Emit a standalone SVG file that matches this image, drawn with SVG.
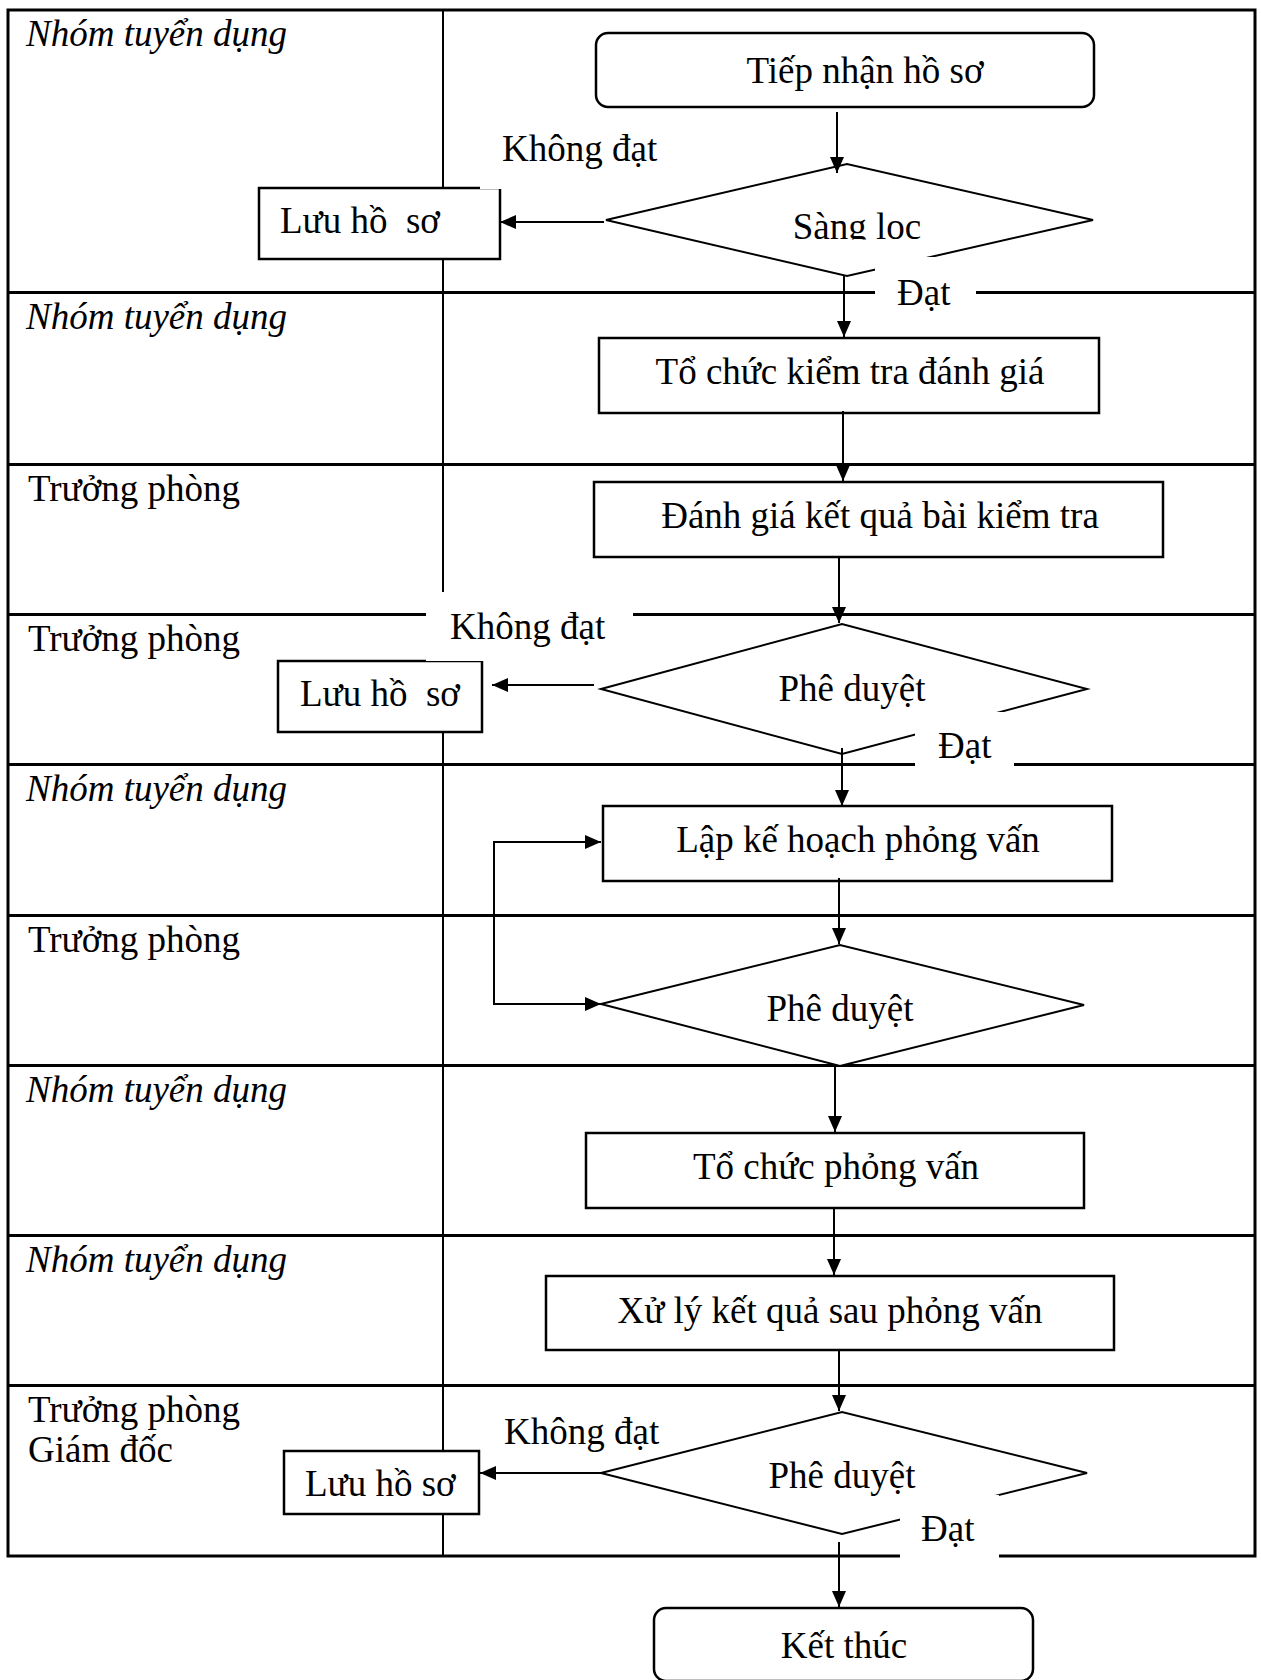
<svg xmlns="http://www.w3.org/2000/svg" width="1261" height="1680" viewBox="0 0 1261 1680">
<defs>
<style>
.lane{stroke:#000;stroke-width:3;fill:none}
.div{stroke:#000;stroke-width:2}
.box{fill:#fff;stroke:#000;stroke-width:2.5}
.dia{fill:#fff;stroke:#000;stroke-width:2}
.t{font-family:"Liberation Serif","Times New Roman",serif;font-size:37px;fill:#000;white-space:pre}
.i{font-style:italic}
.c{text-anchor:middle}
.mask{fill:#fff}
.conn{stroke:#000;stroke-width:2;fill:none;marker-end:url(#ah)}
</style>
<marker id="ah" markerUnits="userSpaceOnUse" markerWidth="16" markerHeight="14" refX="16" refY="7" orient="auto-start-reverse"><path d="M0,0 L16,7 L0,14 z" fill="#000"/></marker>
<clipPath id="clipSL"><rect x="760" y="190" width="200" height="49.5"/></clipPath>
</defs>
<rect width="1261" height="1680" fill="#fff"/>

<g id="lanes">
<rect class="lane" x="8" y="10" width="1247" height="1546"/>
<line class="lane" x1="8" y1="292.5" x2="1255" y2="292.5"/>
<line class="lane" x1="8" y1="464.5" x2="1255" y2="464.5"/>
<line class="lane" x1="8" y1="614.5" x2="1255" y2="614.5"/>
<line class="lane" x1="8" y1="764.5" x2="1255" y2="764.5"/>
<line class="lane" x1="8" y1="915.5" x2="1255" y2="915.5"/>
<line class="lane" x1="8" y1="1065.5" x2="1255" y2="1065.5"/>
<line class="lane" x1="8" y1="1235.5" x2="1255" y2="1235.5"/>
<line class="lane" x1="8" y1="1385.5" x2="1255" y2="1385.5"/>
<line class="div" x1="443" y1="10" x2="443" y2="1556"/>
<text class="t i" x="26" y="46">Nhóm tuyển dụng</text>
<text class="t i" x="26" y="329">Nhóm tuyển dụng</text>
<text class="t" x="28" y="501">Trưởng phòng</text>
<text class="t" x="28" y="651">Trưởng phòng</text>
<text class="t i" x="26" y="801">Nhóm tuyển dụng</text>
<text class="t" x="28" y="952">Trưởng phòng</text>
<text class="t i" x="26" y="1102">Nhóm tuyển dụng</text>
<text class="t i" x="26" y="1272">Nhóm tuyển dụng</text>
<text class="t" x="28" y="1422">Trưởng phòng</text>
<text class="t" x="28" y="1462">Giám đốc</text>
</g>

<g id="n-tiep-nhan"><rect class="box" x="596" y="33" width="498" height="74" rx="12"/><text class="t c" x="865" y="83">Tiếp nhận hồ sơ</text></g>
<g id="n-sang-loc"><polygon class="dia" points="606,220 847,164 1093,220 847,276"/><text class="t c" x="857" y="239" clip-path="url(#clipSL)">Sàng loc</text></g>
<g id="n-luu-1"><rect class="box" x="259" y="188" width="241" height="71"/><text class="t" x="280" y="233">Lưu hồ  sơ</text></g>
<g id="n-to-chuc-kt"><rect class="box" x="599" y="338" width="500" height="75"/><text class="t c" x="850" y="384">Tổ chức kiểm tra đánh giá</text></g>
<g id="n-danh-gia"><rect class="box" x="594" y="482" width="569" height="75"/><text class="t c" x="880" y="528">Đánh giá kết quả bài kiểm tra</text></g>
<g id="n-phe-duyet-1"><polygon class="dia" points="601,689 842,624 1087,689 842,754"/><text class="t c" x="852" y="701">Phê duyệt</text></g>
<g id="n-luu-2"><rect class="box" x="278" y="661" width="204" height="71"/><text class="t" x="300" y="706">Lưu hồ  sơ</text></g>
<g id="n-lap-ke-hoach"><rect class="box" x="603" y="806" width="509" height="75"/><text class="t c" x="858" y="852">Lập kế hoạch phỏng vấn</text></g>
<g id="n-phe-duyet-2"><polygon class="dia" points="601,1004 840,945 1084,1005 840,1066"/><text class="t c" x="840" y="1021">Phê duyệt</text></g>
<g id="n-to-chuc-pv"><rect class="box" x="586" y="1133" width="498" height="75"/><text class="t c" x="836" y="1179">Tổ chức phỏng vấn</text></g>
<g id="n-xu-ly"><rect class="box" x="546" y="1276" width="568" height="74"/><text class="t c" x="830" y="1323">Xử lý kết quả sau phỏng vấn</text></g>
<g id="n-phe-duyet-3"><polygon class="dia" points="601,1473 842,1412 1087,1473 842,1534"/><text class="t c" x="842" y="1488">Phê duyệt</text></g>
<g id="n-luu-3"><rect class="box" x="284" y="1451" width="195" height="63"/><text class="t" x="305" y="1496">Lưu hồ sơ</text></g>
<g id="n-ket-thuc"><rect class="box" x="654" y="1608" width="379" height="73" rx="12"/><text class="t c" x="844" y="1658">Kết thúc</text></g>

<g id="label-masks">
<rect class="mask" x="480" y="120" width="200" height="69"/>
<rect class="mask" x="875" y="257" width="101" height="60"/>
<rect class="mask" x="426" y="592" width="207" height="69"/>
<rect class="mask" x="915" y="712" width="99" height="72"/>
<rect class="mask" x="900" y="1495" width="99" height="72"/>
</g>

<g id="connectors">
<path class="conn" d="M837,112 V173"/>
<path class="conn" d="M604,222 H500"/>
<path class="conn" d="M844,276 V337"/>
<path class="conn" d="M843,411 V481"/>
<path class="conn" d="M839,557 V623"/>
<path class="conn" d="M594,685 H492"/>
<path class="conn" d="M842,748 V806"/>
<path class="conn" d="M839,878 V944"/>
<path class="conn" d="M601,1004 H494 V842 H601" style="marker-start:url(#ah)"/>
<path class="conn" d="M835,1066 V1132"/>
<path class="conn" d="M834,1208 V1275"/>
<path class="conn" d="M839,1350 V1411"/>
<path class="conn" d="M601,1473 H480"/>
<path class="conn" d="M839,1542 V1607"/>
</g>

<g id="edge-labels">
<text class="t" x="502" y="161">Không đạt</text>
<text class="t" x="897" y="305">Đạt</text>
<text class="t" x="450" y="639">Không đạt</text>
<text class="t" x="938" y="758">Đạt</text>
<text class="t" x="504" y="1444">Không đạt</text>
<text class="t" x="921" y="1541">Đạt</text>
</g>
</svg>
